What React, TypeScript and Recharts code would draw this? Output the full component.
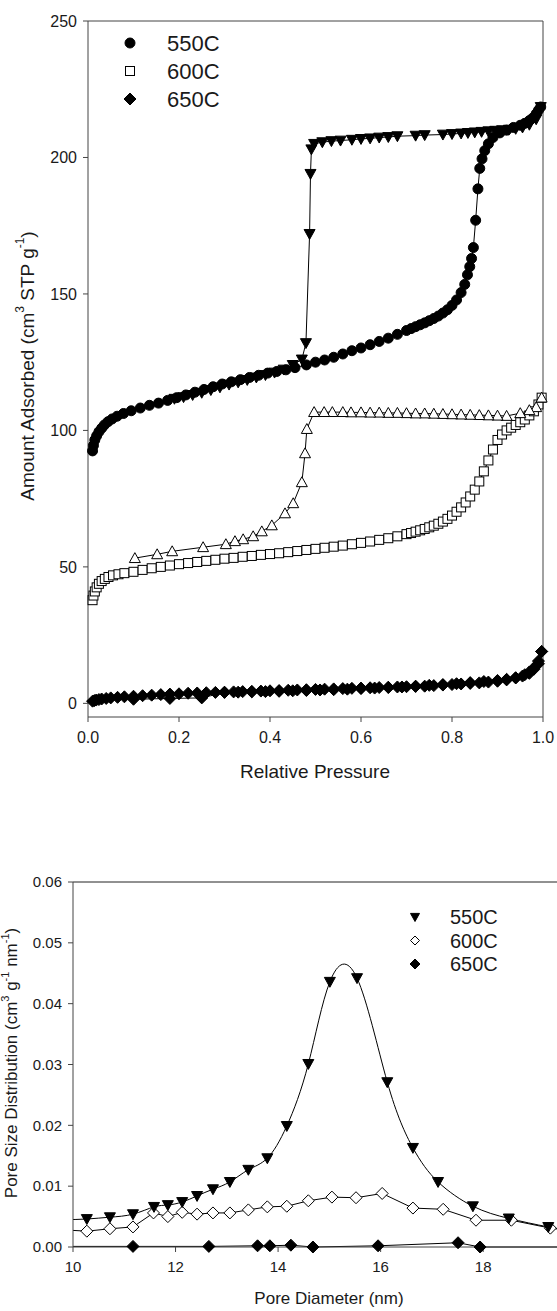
import React from 'react';
import { LineChart, Line, XAxis, YAxis, ReferenceLine, Label } from 'recharts';

type Pt = [number, number];

// --- top panel: N2 isotherms (relative pressure vs amount adsorbed) ---
const ads550: Pt[] = [
  [0.010, 92.5], [0.012, 94.5], [0.015, 96.5], [0.019, 98], [0.024, 99.5], [0.030, 100.8],
  [0.036, 102], [0.044, 103.2], [0.053, 104.2], [0.064, 105.2], [0.078, 106.2], [0.095, 107.2],
  [0.115, 108.2], [0.135, 109.2], [0.155, 110], [0.175, 111], [0.195, 112], [0.215, 113],
  [0.235, 114], [0.255, 115], [0.275, 116], [0.295, 117], [0.315, 117.8], [0.335, 118.6],
  [0.355, 119.4], [0.375, 120.2], [0.395, 121], [0.415, 121.6], [0.435, 122.2], [0.455, 123],
  [0.48, 124], [0.50, 125], [0.52, 125.8], [0.54, 126.8], [0.56, 128], [0.58, 129.2],
  [0.60, 130.2], [0.62, 131.4], [0.64, 132.6], [0.66, 133.8], [0.68, 135.2], [0.70, 136.6],
  [0.71, 137.3], [0.72, 138], [0.73, 138.7], [0.74, 139.4], [0.75, 140.2], [0.76, 141],
  [0.77, 141.9], [0.78, 143], [0.79, 144.2], [0.80, 145.8], [0.81, 147.8], [0.82, 150.5],
  [0.828, 153.5], [0.834, 157], [0.839, 160], [0.843, 163], [0.847, 167], [0.852, 177],
  [0.857, 188.5], [0.861, 196], [0.866, 199.5], [0.872, 202.5], [0.88, 205], [0.89, 207.3],
  [0.905, 209], [0.92, 210], [0.935, 211], [0.95, 211.8], [0.96, 212.5], [0.97, 213.5],
  [0.978, 214.5], [0.985, 216], [0.99, 217.3], [0.995, 218.5],
];

const des550: Pt[] = [
  [0.995, 218.5], [0.985, 214], [0.97, 212], [0.955, 211], [0.94, 210.5], [0.925, 210.2],
  [0.91, 210], [0.895, 209.8], [0.88, 209.6], [0.865, 209.4], [0.85, 209.2], [0.835, 209],
  [0.82, 208.8], [0.80, 208.6], [0.78, 208.4], [0.74, 208.2], [0.72, 208], [0.68, 207.8],
  [0.66, 207.5], [0.64, 207.3], [0.62, 207], [0.60, 206.8], [0.58, 206.5], [0.555, 206.2],
  [0.535, 206], [0.515, 205.6], [0.497, 205], [0.491, 203], [0.489, 194], [0.487, 172],
  [0.479, 132], [0.47, 126], [0.45, 124], [0.43, 122.3], [0.41, 121.2], [0.39, 120.3],
  [0.37, 119.4], [0.35, 118.5], [0.33, 117.6], [0.31, 116.8], [0.29, 115.8], [0.27, 114.8],
  [0.25, 113.8], [0.23, 113], [0.21, 112.2], [0.19, 111.6],
];

const ads600: Pt[] = [
  [0.010, 37.8], [0.012, 39.5], [0.015, 41], [0.019, 42.5], [0.024, 43.8], [0.030, 44.8],
  [0.037, 45.6], [0.045, 46.3], [0.055, 46.9], [0.067, 47.3], [0.08, 47.7], [0.10, 48.2],
  [0.12, 48.9], [0.14, 49.5], [0.16, 50], [0.18, 50.5], [0.20, 51], [0.22, 51.4],
  [0.24, 51.8], [0.26, 52.2], [0.28, 52.6], [0.30, 53], [0.32, 53.3], [0.34, 53.7],
  [0.36, 54], [0.38, 54.4], [0.40, 54.7], [0.42, 55], [0.44, 55.4], [0.46, 55.8],
  [0.48, 56.2], [0.50, 56.6], [0.52, 57], [0.54, 57.4], [0.56, 57.8], [0.58, 58.3],
  [0.60, 58.8], [0.62, 59.3], [0.64, 59.9], [0.66, 60.5], [0.68, 61.2], [0.70, 62],
  [0.71, 62.4], [0.72, 62.9], [0.73, 63.4], [0.74, 63.9], [0.75, 64.5], [0.76, 65.1],
  [0.77, 65.8], [0.78, 66.6], [0.79, 67.6], [0.80, 68.8], [0.81, 70.2], [0.82, 71.8],
  [0.83, 73.6], [0.84, 75.8], [0.85, 78.3], [0.86, 81.3], [0.87, 85], [0.88, 89],
  [0.89, 93], [0.90, 96.5], [0.91, 98.5], [0.92, 100], [0.93, 101], [0.94, 102],
  [0.95, 103], [0.96, 104], [0.97, 105.5], [0.98, 107], [0.99, 109.5], [0.997, 112],
];

const des600: Pt[] = [
  [0.997, 112], [0.985, 108.5], [0.97, 107.4], [0.95, 106.3], [0.92, 105.3], [0.90, 105.4],
  [0.88, 105.5], [0.86, 105.6], [0.84, 105.7], [0.82, 105.8], [0.80, 105.9], [0.78, 106],
  [0.76, 106.1], [0.74, 106.2], [0.72, 106.2], [0.70, 106.3], [0.68, 106.4], [0.66, 106.4],
  [0.64, 106.5], [0.62, 106.5], [0.60, 106.6], [0.578, 106.6], [0.56, 106.7], [0.537, 106.7],
  [0.519, 106.7], [0.497, 106.7], [0.481, 100.5], [0.477, 91.6], [0.47, 81], [0.451, 73.3],
  [0.433, 69.6], [0.404, 65.2], [0.382, 63], [0.363, 61.2], [0.341, 60.1], [0.323, 59.4],
  [0.303, 58.3], [0.253, 57.2], [0.185, 55.7], [0.152, 54.6], [0.103, 53.2],
];

const ads650: Pt[] = [
  [0.010, 0.8], [0.014, 1.0], [0.018, 1.2], [0.024, 1.4], [0.03, 1.6], [0.04, 1.8],
  [0.05, 2.0], [0.065, 2.2], [0.08, 2.4], [0.10, 2.6], [0.12, 2.8], [0.14, 3.0],
  [0.16, 3.2], [0.18, 3.4], [0.20, 3.5], [0.22, 3.7], [0.24, 3.8], [0.26, 3.9],
  [0.28, 4.0], [0.30, 4.1], [0.32, 4.2], [0.34, 4.3], [0.36, 4.4], [0.38, 4.5],
  [0.40, 4.6], [0.42, 4.7], [0.44, 4.8], [0.46, 4.9], [0.48, 5.0], [0.50, 5.1],
  [0.52, 5.2], [0.54, 5.3], [0.56, 5.4], [0.58, 5.5], [0.60, 5.6], [0.62, 5.7],
  [0.64, 5.8], [0.66, 5.9], [0.68, 6.0], [0.70, 6.1], [0.72, 6.2], [0.74, 6.3],
  [0.76, 6.5], [0.78, 6.7], [0.80, 6.9], [0.82, 7.1], [0.84, 7.3], [0.86, 7.5],
  [0.88, 7.8], [0.90, 8.1], [0.92, 8.6], [0.94, 9.4], [0.96, 10.5], [0.97, 11.5],
  [0.98, 13], [0.99, 15.5], [0.997, 19],
];

const des650: Pt[] = [
  [0.997, 19], [0.99, 14.5], [0.98, 12.5], [0.97, 11], [0.955, 10], [0.94, 9.3],
  [0.92, 8.8], [0.90, 8.4], [0.87, 8.0], [0.84, 7.6], [0.81, 7.2], [0.78, 6.9],
  [0.75, 6.6], [0.72, 6.3], [0.69, 6.0], [0.66, 5.8], [0.63, 5.6], [0.60, 5.4],
  [0.57, 5.2], [0.54, 5.0], [0.51, 4.9], [0.48, 4.7], [0.45, 4.6], [0.42, 4.4],
  [0.39, 4.3], [0.36, 4.2], [0.33, 4.1], [0.30, 4.0], [0.25, 2.0], [0.18, 1.8], [0.10, 1.5],
];

const pressureTicks = [0, 0.2, 0.4, 0.6, 0.8, 1.0];
const adsorbedTicks = [0, 50, 100, 150, 200, 250];

// --- bottom panel: pore size distribution ---
const psd550: Pt[] = [
  [9.85, 0.0045], [10.27, 0.0046], [10.72, 0.0049], [11.17, 0.0054], [11.58, 0.0066],
  [11.85, 0.0069], [12.13, 0.0074], [12.42, 0.0084], [12.73, 0.0095], [13.06, 0.0107],
  [13.42, 0.0127], [13.79, 0.0146], [14.17, 0.0199], [14.59, 0.0301], [15.01, 0.0436],
  [15.54, 0.0442], [16.13, 0.0271], [16.63, 0.0163], [17.12, 0.0107], [17.8, 0.0067],
  [18.5, 0.0047], [19.27, 0.0033], [20.0, 0.0022],
];

const psd600: Pt[] = [
  [9.85, 0.0028], [10.27, 0.0026], [10.72, 0.0030], [11.17, 0.0033], [11.57, 0.0056],
  [11.85, 0.0050], [12.13, 0.0057], [12.42, 0.0054], [12.73, 0.0056], [13.06, 0.0056],
  [13.42, 0.0061], [13.79, 0.0066], [14.17, 0.0067], [14.59, 0.0076], [15.05, 0.0082],
  [15.52, 0.0081], [16.03, 0.0088], [16.63, 0.0064], [17.22, 0.0062], [17.86, 0.0044],
  [18.55, 0.0044], [19.31, 0.0031], [20.0, 0.0024],
];

const psd650: Pt[] = [
  [9.85, 0.0001], [11.17, 0.0001], [12.65, 0.0001], [13.6, 0.0002], [13.84, 0.0002],
  [14.25, 0.0003], [14.68, 0.0], [15.95, 0.0002], [17.51, 0.0007], [17.94, 0.0], [20.0, 0.0],
];

const diameterTicks = [10, 12, 14, 16, 18];
const psdTicks = [0, 0.01, 0.02, 0.03, 0.04, 0.05, 0.06];

const FONT = 'Arial, "Liberation Sans", sans-serif';
const INK = '#1a1a1a';
const AXIS = '#444';

const rows = (pts: Pt[]) => pts.map(([x, y]) => ({ x, y }));

type Shape = 'circle' | 'square' | 'triDown' | 'triUp' | 'diamond';

const marker = (shape: Shape, s: number, fill: string, cx: number, cy: number, key?: string) => {
  const common = { fill, stroke: '#000', strokeWidth: 1 };
  switch (shape) {
    case 'circle':
      return <circle key={key} cx={cx} cy={cy} r={s} {...common} />;
    case 'square':
      return <rect key={key} x={cx - s} y={cy - s} width={2 * s} height={2 * s} {...common} />;
    case 'triDown':
      return <polygon key={key} points={`${cx - s},${cy - s * 0.8} ${cx + s},${cy - s * 0.8} ${cx},${cy + s}`} {...common} />;
    case 'triUp':
      return <polygon key={key} points={`${cx - s},${cy + s * 0.8} ${cx + s},${cy + s * 0.8} ${cx},${cy - s}`} {...common} />;
    default:
      return <polygon key={key} points={`${cx},${cy - s} ${cx + s},${cy} ${cx},${cy + s} ${cx - s},${cy}`} {...common} />;
  }
};

const dotFn = (shape: Shape, s: number, fill: string) => (props: any) => {
  const { cx, cy, index } = props;
  if (cx == null || cy == null) return <g key={`e-${index}`} />;
  return marker(shape, s, fill, cx, cy, `d-${index}`);
};

const Isotherms = () => (
  <LineChart width={557} height={790} margin={{ top: 21, right: 14, bottom: 0, left: 0 }}>
    <XAxis
      type="number"
      dataKey="x"
      domain={[0, 1]}
      ticks={pressureTicks}
      tickFormatter={(v: number) => v.toFixed(1)}
      height={73}
      tickSize={5}
      tickMargin={10}
      stroke={AXIS}
      tick={{ fill: INK, fontSize: 16, fontFamily: FONT }}
    >
      <Label
        content={() => (
          <text x={315} y={771} textAnchor="middle" dominantBaseline="central" fill={INK} fontSize={19} fontFamily={FONT}>
            Relative Pressure
          </text>
        )}
      />
    </XAxis>
    <YAxis
      type="number"
      domain={[-5, 250]}
      ticks={adsorbedTicks}
      width={88}
      tickSize={5}
      tickMargin={6}
      stroke={AXIS}
      tick={{ fill: INK, fontSize: 16, fontFamily: FONT }}
    >
      <Label
        content={() => (
          <text x={27} y={366} transform="rotate(-90 27 366)" textAnchor="middle" dominantBaseline="central" fill={INK} fontSize={19} fontFamily={FONT}>
            Amount Adsorbed (cm<tspan dy={-7} fontSize={12}>3</tspan>
            <tspan dy={7}> STP g</tspan>
            <tspan dy={-7} fontSize={12}>-1</tspan>
            <tspan dy={7}>)</tspan>
          </text>
        )}
      />
    </YAxis>
    <ReferenceLine y={250} stroke={AXIS} strokeWidth={1} />
    <ReferenceLine x={1} stroke={AXIS} strokeWidth={1} />
    <Line data={rows(des650)} dataKey="y" stroke="#000" strokeWidth={1} dot={dotFn('diamond', 6, '#000')} isAnimationActive={false} />
    <Line data={rows(ads650)} dataKey="y" stroke="#000" strokeWidth={1} dot={dotFn('diamond', 6, '#000')} isAnimationActive={false} />
    <Line data={rows(ads600)} dataKey="y" stroke="#000" strokeWidth={1} dot={dotFn('square', 4.5, '#fff')} isAnimationActive={false} />
    <Line data={rows(des600)} dataKey="y" stroke="#000" strokeWidth={1} dot={dotFn('triUp', 5.5, '#fff')} isAnimationActive={false} />
    <Line data={rows(des550)} dataKey="y" stroke="#000" strokeWidth={1} dot={dotFn('triDown', 5.5, '#000')} isAnimationActive={false} />
    <Line data={rows(ads550)} dataKey="y" stroke="#000" strokeWidth={1} dot={dotFn('circle', 5, '#000')} isAnimationActive={false} />
  </LineChart>
);

const PoreSize = () => (
  <LineChart width={557} height={511} margin={{ top: 82, right: 0, bottom: 0, left: 0 }}>
    <XAxis
      type="number"
      dataKey="x"
      domain={[10, 19.44]}
      allowDataOverflow
      ticks={diameterTicks}
      height={64}
      tickSize={5}
      tickMargin={9}
      stroke={AXIS}
      tick={{ fill: INK, fontSize: 15, fontFamily: FONT }}
    >
      <Label
        content={() => (
          <text x={329} y={498} textAnchor="middle" dominantBaseline="central" fill={INK} fontSize={17} fontFamily={FONT}>
            Pore Diameter (nm)
          </text>
        )}
      />
    </XAxis>
    <YAxis
      type="number"
      domain={[0, 0.06]}
      ticks={psdTicks}
      tickFormatter={(v: number) => v.toFixed(2)}
      width={73}
      tickSize={5}
      tickMargin={6}
      stroke={AXIS}
      tick={{ fill: INK, fontSize: 15, fontFamily: FONT }}
    >
      <Label
        content={() => (
          <text x={11} y={263} transform="rotate(-90 11 263)" textAnchor="middle" dominantBaseline="central" fill={INK} fontSize={17} fontFamily={FONT}>
            Pore Size Distribution (cm<tspan dy={-6} fontSize={11}>3</tspan>
            <tspan dy={6}> g</tspan>
            <tspan dy={-6} fontSize={11}>-1</tspan>
            <tspan dy={6}> nm</tspan>
            <tspan dy={-6} fontSize={11}>-1</tspan>
            <tspan dy={6}>)</tspan>
          </text>
        )}
      />
    </YAxis>
    <ReferenceLine y={0.06} stroke="#222" strokeWidth={1} />
    <Line data={rows(psd650)} dataKey="y" type="linear" stroke="#000" strokeWidth={1} dot={dotFn('diamond', 6, '#000')} isAnimationActive={false} />
    <Line data={rows(psd600)} dataKey="y" type="linear" stroke="#000" strokeWidth={1} dot={dotFn('diamond', 6, '#fff')} isAnimationActive={false} />
    <Line data={rows(psd550)} dataKey="y" type="natural" stroke="#000" strokeWidth={1} dot={dotFn('triDown', 5.5, '#000')} isAnimationActive={false} />
  </LineChart>
);

const legendTop = [
  { name: '550C', shape: 'circle' as Shape, size: 5, fill: '#000' },
  { name: '600C', shape: 'square' as Shape, size: 4.5, fill: '#fff' },
  { name: '650C', shape: 'diamond' as Shape, size: 6, fill: '#000' },
];
const legendBottom = [
  { name: '550C', shape: 'triDown' as Shape, size: 4.5, fill: '#000' },
  { name: '600C', shape: 'diamond' as Shape, size: 4.5, fill: '#fff' },
  { name: '650C', shape: 'diamond' as Shape, size: 5, fill: '#000' },
];

export default function App() {
  return (
    <div style={{ position: 'absolute', left: 0, top: 0, width: 557, height: 1311, background: '#fff', fontFamily: FONT }}>
      <div style={{ position: 'absolute', left: 0, top: 0 }}>
        <Isotherms />
      </div>
      <svg style={{ position: 'absolute', left: 0, top: 0 }} width={300} height={120}>
        {legendTop.map((item, i) => (
          <g key={item.name}>
            {marker(item.shape, item.size, item.fill, 130, 43 + i * 28)}
            <text x={167} y={43 + i * 28} dominantBaseline="central" fontSize={22} fill={INK} fontFamily={FONT}>
              {item.name}
            </text>
          </g>
        ))}
      </svg>
      <div style={{ position: 'absolute', left: 0, top: 800 }}>
        <PoreSize />
      </div>
      <svg style={{ position: 'absolute', left: 380, top: 895 }} width={150} height={90}>
        {legendBottom.map((item, i) => (
          <g key={item.name}>
            {marker(item.shape, item.size, item.fill, 35, 22 + i * 23.5)}
            <text x={70} y={22 + i * 23.5} dominantBaseline="central" fontSize={20} fill={INK} fontFamily={FONT}>
              {item.name}
            </text>
          </g>
        ))}
      </svg>
    </div>
  );
}
